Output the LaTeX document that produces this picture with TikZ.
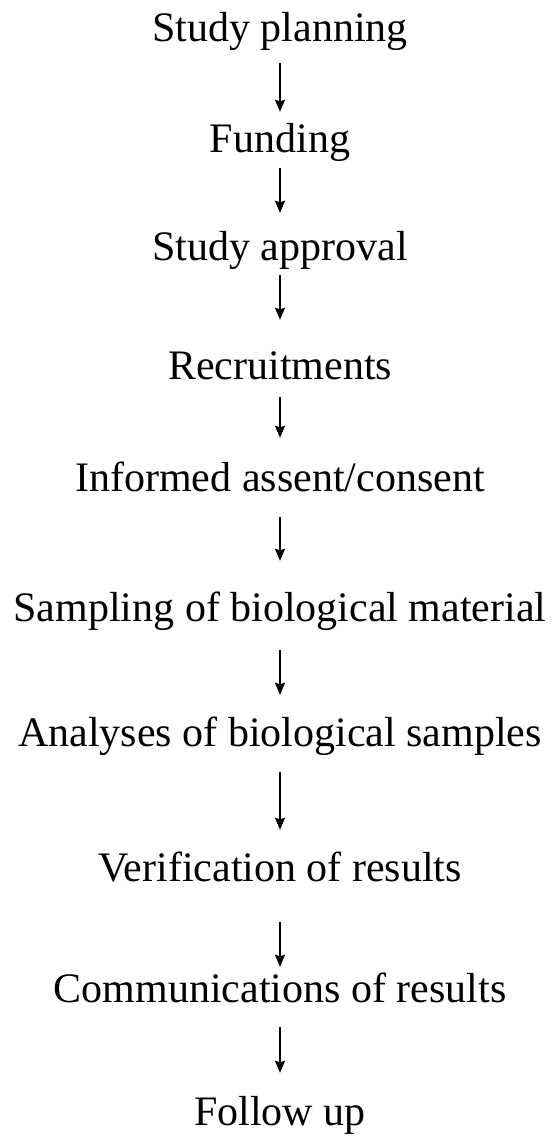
\documentclass[tikz,border=0pt]{standalone}
\usepackage{fontspec}
\setmainfont{Liberation Serif}
\usetikzlibrary{arrows.meta}

\begin{document}
\begin{tikzpicture}[
  x=1pt, y=1pt,
  % Node styles
  stagenode/.style={
    inner sep=0pt, anchor=base,
    text height=29pt, text depth=9pt,
    font=\fontsize{42}{50}\selectfont
  },
  % Arrow style
  arr/.style={-{Stealth[length=12pt, width=10pt, inset=1.5pt]}, line width=1.4pt}
]
\useasboundingbox (0,0) rectangle (556,1136);

%% ── Stages ───────────────────────────────────────────────────
\node[stagenode] (plan)     at (280,1094) {Study planning};
\node[stagenode] (fund)     at (280,983)  {Funding};
\node[stagenode] (approval) at (280,875)  {Study approval};
\node[stagenode] (recruit)  at (280,756)  {Recruitments};
\node[stagenode] (consent)  at (280,644)  {Informed assent/consent};
\node[stagenode] (sampling) at (280,514)  {Sampling of biological material};
\node[stagenode] (analyses) at (280,389)  {Analyses of biological samples};
\node[stagenode] (verify)   at (280,254)  {Verification of results};
\node[stagenode] (comm)     at (280,133)  {Communications of results};
\node[stagenode] (followup) at (280,10)   {Follow up};

%% ── Arrows ───────────────────────────────────────────────────
\draw[arr, shorten <=12pt, shorten >=12pt] (plan)     -- (fund);
\draw[arr, shorten <=6pt,  shorten >=19pt] (fund)     -- (approval);
\draw[arr, shorten <=5pt,  shorten >=31pt] (approval) -- (recruit);
\draw[arr, shorten <=8pt,  shorten >=25pt] (recruit)  -- (consent);
\draw[arr, shorten <=16pt, shorten >=32pt] (consent)  -- (sampling);
\draw[arr, shorten <=19pt, shorten >=23pt] (sampling) -- (analyses);
\draw[arr, shorten <=16pt, shorten >=23pt] (analyses) -- (verify);
\draw[arr, shorten <=31pt, shorten >=7pt]  (verify)   -- (comm);
\draw[arr, shorten <=15pt, shorten >=24pt] (comm)     -- (followup);

\end{tikzpicture}
\end{document}
